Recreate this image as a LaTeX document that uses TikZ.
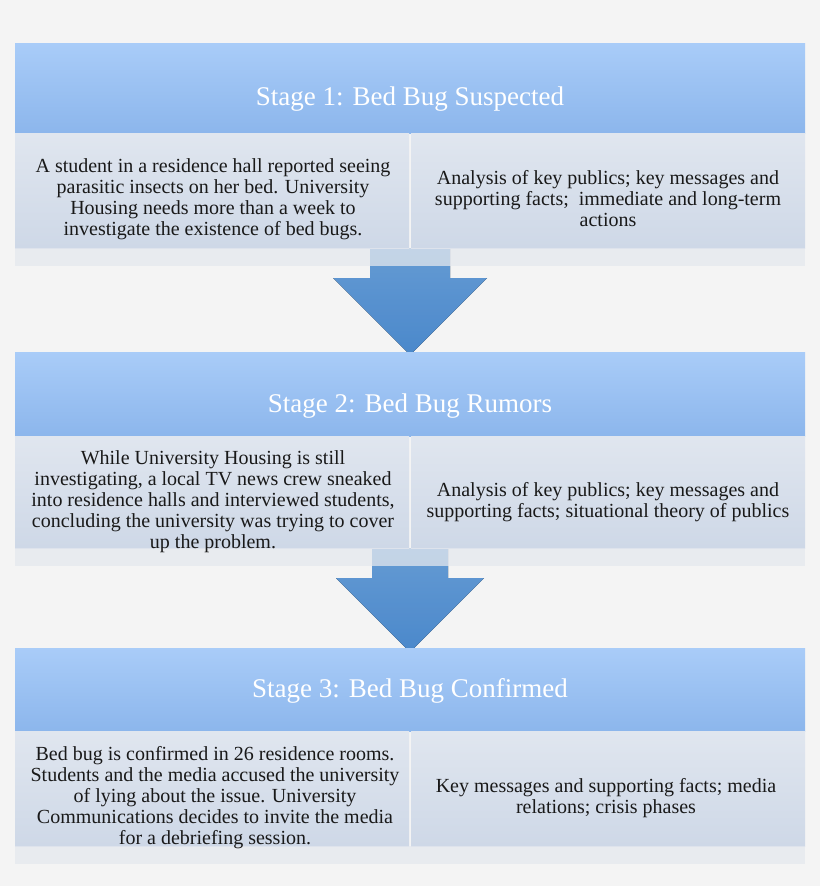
\documentclass[tikz,border=0pt]{standalone}
\usepackage{fontspec}
\setmainfont{Liberation Serif}
\begin{document}
\begin{tikzpicture}[x=1pt,y=-1pt,
  hdr/.style={top color=hdrtop,bottom color=hdrbot,draw=none},
  cell/.style={top color=celltop,bottom color=cellbot,draw=none},
  strip/.style={fill=stripc,draw=none},
  arr/.style={top color=arrtop,bottom color=arrbot,draw=none,opacity=0.95},
  htxt/.style={text=white,font=\fontsize{27}{30}\selectfont},
  btxt/.style={text=black!90,font=\fontsize{20}{21}\selectfont,align=center}]
\definecolor{bg}{HTML}{F4F4F4}
\definecolor{hdrtop}{HTML}{A9CCF8}
\definecolor{hdrbot}{HTML}{8CB6EC}
\definecolor{celltop}{HTML}{E0E6EF}
\definecolor{cellbot}{HTML}{CED8E7}
\definecolor{stripc}{HTML}{E4E8EE}
\definecolor{arrtop}{HTML}{6AA3DE}
\definecolor{arrbot}{HTML}{4E8FD6}
\fill[bg] (0,0) rectangle (820,886);
\useasboundingbox (0,0) rectangle (820,886);
% arrows (behind)
\fill[arr] (370,248) -- (450,248) -- (450,278) -- (487,278) -- (410,355) -- (333,278) -- (370,278) -- cycle;
\fill[arr] (372,548) -- (448,548) -- (448,578) -- (484,578) -- (410,652) -- (336,578) -- (372,578) -- cycle;
% stage 1
\fill[hdr] (15,43) rectangle (805,133);
\fill[cell] (15,133) rectangle (409,248);
\fill[cell] (411,133) rectangle (805,248);
\fill[strip,opacity=0.75] (15,248) rectangle (805,266);
\node[htxt] (h1) at (410,99) {Stage 1: Bed Bug Suspected};
\node[btxt] (l1) at (213,199) {A student in a residence hall reported seeing\\parasitic insects on her bed. University\\Housing needs more than a week to\\investigate the existence of bed bugs.};
\node[btxt] (r1) at (608,199) {Analysis of key publics; key messages and\\supporting facts;~ immediate and long-term\\actions};
% stage 2
\fill[hdr] (15,352) rectangle (805,436);
\fill[cell] (15,436) rectangle (409,548);
\fill[cell] (411,436) rectangle (805,548);
\fill[strip,opacity=0.75] (15,548) rectangle (805,566);
\node[htxt] (h2) at (410,406) {Stage 2: Bed Bug Rumors};
\node[btxt] (l2) at (213,502) {While University Housing is still\\investigating, a local TV news crew sneaked\\into residence halls and interviewed students,\\concluding the university was trying to cover\\up the problem.};
\node[btxt] (r2) at (608,502) {Analysis of key publics; key messages and\\supporting facts; situational theory of publics};
% stage 3
\fill[hdr] (15,648) rectangle (805,731);
\fill[cell] (15,731) rectangle (409,846);
\fill[cell] (411,731) rectangle (805,846);
\fill[strip,opacity=0.75] (15,846) rectangle (805,864);
\node[htxt] (h3) at (410,691) {Stage 3: Bed Bug Confirmed};
\node[btxt] (l3) at (215,798) {Bed bug is confirmed in 26 residence rooms.\\Students and the media accused the university\\of lying about the issue. University\\Communications decides to invite the media\\for a debriefing session.};
\node[btxt] (r3) at (606,798) {Key messages and supporting facts; media\\relations; crisis phases};
\end{tikzpicture}
\end{document}
